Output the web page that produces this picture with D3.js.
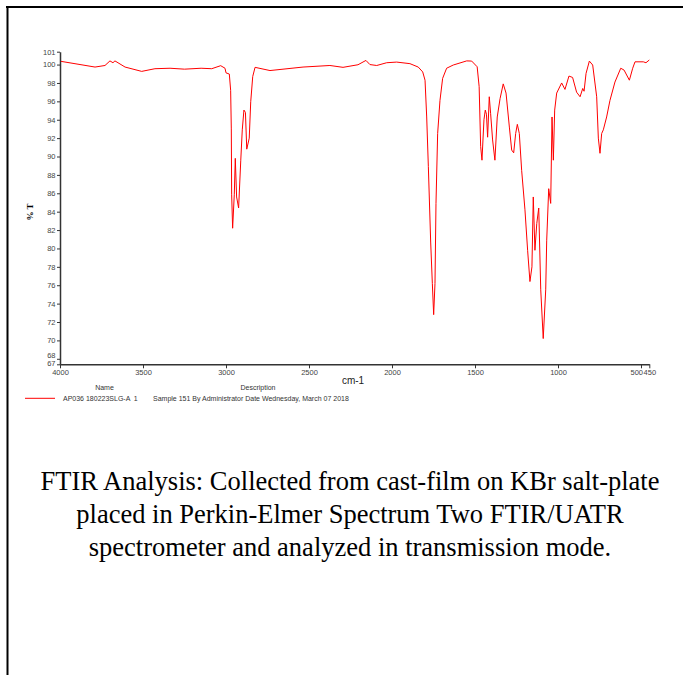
<!DOCTYPE html>
<html>
<head>
<meta charset="UTF-8">
<title>FTIR Spectrum</title>
<script src="https://cdnjs.cloudflare.com/ajax/libs/d3/7.8.5/d3.min.js"></script>
<style>
    body { margin: 0; background: #fff; }
    svg { display: block; }
    .tick text { font-family: "Liberation Sans", Arial, sans-serif; font-size: 7.5px; fill: #444; }
    .axis path, .axis line { stroke: #333; }
    .caption { font-family: "Liberation Serif", "Times New Roman", serif; font-size: 26.5px; fill: #000; }
    .small { font-family: "Liberation Sans", Arial, sans-serif; font-size: 7px; fill: #333; }
</style>
</head>
<body>
<div id="chart"></div>
<script>
// spectrum: wavenumber (cm-1) and %T
const wavenumbers = [3994, 3789, 3729, 3699, 3681, 3669, 3608, 3508, 3428, 3337, 3250, 3150, 3086, 3032, 3006,
    3000, 2980, 2972, 2968, 2966, 2960, 2950, 2944, 2936, 2924, 2911, 2902, 2892, 2883, 2875, 2860, 2851, 2839, 2825,
    2735, 2536, 2374, 2295, 2205, 2157, 2133, 2092, 2032, 1972, 1892, 1842, 1815, 1801, 1791, 1781, 1767, 1757, 1749,
    1741, 1735, 1725, 1711, 1695, 1671, 1631, 1550, 1520, 1487, 1475, 1466, 1458, 1446, 1438, 1431, 1424, 1414, 1406,
    1394, 1380, 1366, 1349, 1330, 1313, 1293, 1279, 1267, 1255, 1245, 1233, 1219, 1199, 1183, 1169, 1157, 1149, 1139,
    1128, 1116, 1104, 1089, 1074, 1068, 1056, 1044, 1036, 1028, 1020, 1008, 978, 958, 934, 912, 888, 867, 851, 843,
    831, 811, 791, 767, 757, 747, 737, 727, 707, 687, 657, 622, 602, 570, 550, 536, 486, 470, 450];
const transmittance = [100.35, 99.73, 99.9, 100.4, 100.2, 100.4, 99.73, 99.26, 99.55, 99.6, 99.5, 99.6, 99.55, 99.88, 99.6,
    99.1, 98.97, 97.2, 93.0, 85.9, 82.2, 85.9, 89.8, 85.6, 84.4, 89.6, 92.9, 95.05, 94.8, 90.8, 92.0, 95.96, 98.7, 99.7,
    99.35, 99.73, 99.9, 99.7, 99.98, 100.45, 100.0, 99.9, 100.2, 100.27, 100.1, 99.73, 99.2, 98.3, 94.3, 88.9, 80.7, 76.2, 72.8,
    76.2, 84.9, 92.5, 96.1, 98.5, 99.6, 99.95, 100.4, 100.38, 99.76, 97.6, 91.1, 89.6, 94.0, 95.05, 94.6, 92.1, 96.5, 94.7,
    91.8, 89.6, 94.3, 96.3, 97.9, 96.9, 93.2, 90.7, 90.4, 92.5, 93.5, 92.5, 88.5, 84.2, 79.8, 76.4, 78.0, 85.6, 79.8,
    82.7, 84.4, 75.5, 70.2, 75.5, 80.9, 86.5, 84.9, 94.3, 89.6, 95.05, 96.9, 98.0, 97.3, 98.75, 98.6, 97.0, 96.5, 97.4, 97.1,
    99.04, 100.38, 99.95, 96.5, 92.0, 90.35, 92.5, 92.9, 94.3, 96.1, 98.1, 99.6, 99.4, 98.3, 99.6, 100.3, 100.3, 100.2, 100.5];

const xTicks = [4000, 3500, 3000, 2500, 2000, 1500, 1000, 500, 450];
const yTicks = [67.4, 68, 70, 72, 74, 76, 78, 80, 82, 84, 86, 88, 90, 92, 94, 96, 98, 100, 101.4];
const legendName = "AP036 180223SLG-A  1";
const legendDesc = "Sample 151 By Administrator Date Wednesday, March 07 2018";
const captionLines = [
    "FTIR Analysis: Collected from cast-film on KBr salt-plate",
    "placed in Perkin-Elmer Spectrum Two FTIR/UATR",
    "spectrometer and analyzed in transmission mode."
];

const width = 683, height = 675;
const svg = d3.select("#chart").append("svg")
    .attr("width", width)
    .attr("height", height);

// page frame (top and left rules)
svg.append("line").attr("x1", 6).attr("x2", width).attr("y1", 7).attr("y2", 7)
    .attr("stroke", "#000").attr("stroke-width", 2);
svg.append("line").attr("x1", 7.5).attr("x2", 7.5).attr("y1", 6).attr("y2", height)
    .attr("stroke", "#000").attr("stroke-width", 2);

const x = d3.scaleLinear().domain([4000, 450]).range([60, 649.3]);
const y = d3.scaleLinear().domain([67.4, 101.4]).range([364.3, 51.7]);

// axes
const yAxis = svg.append("g")
    .attr("class", "axis")
    .attr("transform", "translate(60,0)")
    .call(d3.axisLeft(y).tickValues(yTicks).tickSize(3).tickSizeOuter(0).tickPadding(1.5)
        .tickFormat(d3.format(".0f")));
yAxis.select(".domain").attr("stroke-width", 1.5);
// the two bottom labels sit very close, nudge them apart like the original
yAxis.selectAll(".tick text").filter(d => d === 68).attr("y", -3.2);
yAxis.selectAll(".tick text").filter(d => d === 67.4).attr("y", -0.8);

const xAxis = svg.append("g")
    .attr("class", "axis")
    .attr("transform", "translate(0,364.3)")
    .call(d3.axisBottom(x).tickValues(xTicks).tickSize(4).tickSizeOuter(0).tickPadding(1)
        .tickFormat(d3.format("d")));
xAxis.select(".domain").attr("stroke-width", 1.5);
xAxis.selectAll(".tick text").filter(d => d === 500).attr("text-anchor", "end").attr("dx", "0.2em");

// spectrum
const data = wavenumbers.map((w, i) => [w, transmittance[i]]);
svg.append("path")
    .datum(data)
    .attr("fill", "none")
    .attr("stroke", "#ff0000")
    .attr("stroke-width", 1)
    .attr("stroke-linejoin", "round")
    .attr("d", d3.line().x(d => x(d[0])).y(d => y(d[1])));

// axis titles
svg.append("text")
    .attr("transform", "translate(33,212) rotate(-90)")
    .attr("text-anchor", "middle")
    .style("font-family", "Liberation Serif, serif")
    .style("font-size", "9px")
    .style("font-weight", "bold")
    .text("% T");
svg.append("text")
    .attr("x", 353).attr("y", 383.5)
    .attr("text-anchor", "middle")
    .style("font-family", "Liberation Sans, Arial, sans-serif")
    .style("font-size", "10px")
    .attr("fill", "#222")
    .text("cm-1");

// legend
svg.append("text").attr("class", "small").attr("x", 104.5).attr("y", 390)
    .attr("text-anchor", "middle").text("Name");
svg.append("text").attr("class", "small").attr("x", 258).attr("y", 390)
    .attr("text-anchor", "middle").text("Description");
svg.append("line").attr("x1", 25).attr("x2", 55).attr("y1", 398.3).attr("y2", 398.3)
    .attr("stroke", "#ff0000").attr("stroke-width", 1);
svg.append("text").attr("class", "small").attr("x", 63).attr("y", 400.5).text(legendName)
    .attr("xml:space", "preserve");
svg.append("text").attr("class", "small").attr("x", 153).attr("y", 400.5).text(legendDesc);

// caption
svg.append("g").selectAll("text")
    .data(captionLines)
    .join("text")
    .attr("class", "caption")
    .attr("x", 350)
    .attr("y", (d, i) => 490 + i * 33)
    .attr("text-anchor", "middle")
    .text(d => d);
</script>
</body>
</html>
